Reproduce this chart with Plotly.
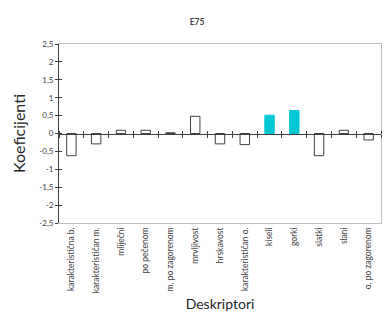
import plotly.graph_objects as go

categories = ["karakteristična b.", "karakterističan m.", "mliječni", "po pečenom",
              "m. po zagorenom", "mrvljivost", "hrskavost", "karakterističan o.",
              "kiseli", "gorki", "slatki", "slani", "o. po zagorenom"]
values = [-0.62, -0.29, 0.09, 0.09, 0.02, 0.48, -0.29, -0.31, 0.51, 0.64, -0.62, 0.09, -0.18]
highlight = [False, False, False, False, False, False, False, False, True, True, False, False, False]
y_ticks = [-2.5, -2, -1.5, -1, -0.5, 0, 0.5, 1, 1.5, 2, 2.5]
y_tick_labels = ["-2,5", "-2", "-1,5", "-1", "-0,5", "0", "0,5", "1", "1,5", "2", "2,5"]

CYAN = "#00C8D2"
fills = [CYAN if h else "white" for h in highlight]
lines = [CYAN if h else "#404040" for h in highlight]

font = "Lato, Open Sans, sans-serif"
fig = go.Figure()
fig.add_trace(go.Bar(x=categories, y=values, width=0.38,
                     marker=dict(color=fills, line=dict(color=lines, width=1)),
                     showlegend=False))
fig.add_trace(go.Scatter(x=categories, y=values, xaxis="x2", yaxis="y", mode="none",
                         showlegend=False, hoverinfo="skip"))
fig.add_trace(go.Scatter(x=categories, y=values, xaxis="x3", yaxis="y", mode="none",
                         showlegend=False, hoverinfo="skip"))
fig.add_trace(go.Scatter(x=categories, y=values, xaxis="x", yaxis="y2", mode="none",
                         showlegend=False, hoverinfo="skip"))
fig.add_trace(go.Scatter(x=categories, y=values, xaxis="x", yaxis="y3", mode="none",
                         showlegend=False, hoverinfo="skip"))

fig.update_layout(
    width=392, height=335,
    margin=dict(l=59, r=11, t=44, b=112),
    paper_bgcolor="white", plot_bgcolor="white",
    font=dict(family=font, color="#404040"),
    title=dict(text="<b>E75</b>", x=197/392, xanchor="center", y=1 - 22/335, yanchor="middle",
               font=dict(size=8.5, color="#404040")),
    xaxis=dict(type="category", range=[-0.5, 12.5], showline=True, linecolor="#BFBFBF",
               linewidth=1, mirror=True, ticks="", tickangle=-90, automargin=False,
               tickfont=dict(size=8.5, color="#404040"), showgrid=False,
               title=dict(text="Deskriptori", font=dict(size=14, color="#262626"), standoff=6)),
    xaxis2=dict(type="category", range=[-0.5, 12.5], overlaying="x", anchor="free",
                position=0.5, showline=True, linecolor="#404040", linewidth=1,
                ticks="outside", ticklen=3, tickcolor="#404040", tickson="boundaries",
                showticklabels=False, showgrid=False, zeroline=False),
    xaxis3=dict(type="category", range=[-0.5, 12.5], overlaying="x", anchor="free",
                position=0.5, side="top", showline=False,
                ticks="outside", ticklen=3, tickcolor="#404040", tickson="boundaries",
                showticklabels=False, showgrid=False, zeroline=False),
    yaxis=dict(range=[-2.5, 2.5], tickvals=y_ticks, ticktext=y_tick_labels, automargin=False,
               showline=True, linecolor="#404040", linewidth=1, ticks="outside",
               ticklen=3, tickcolor="#404040", showgrid=False, zeroline=False,
               tickfont=dict(size=8, color="#404040"),
               title=dict(text="Koeficijenti", font=dict(size=16, color="#262626"), standoff=9)),
    yaxis2=dict(range=[-2.5, 2.5], tickvals=y_ticks, overlaying="y", anchor="x", side="left",
                showline=False, ticks="inside", ticklen=3, tickcolor="#404040",
                showticklabels=False, showgrid=False, zeroline=False),
    yaxis3=dict(range=[-2.5, 2.5], overlaying="y", anchor="x", side="right",
                showline=True, linecolor="#BFBFBF", linewidth=1, ticks="",
                showticklabels=False, showgrid=False, zeroline=False),
)
fig.write_html("out.html", config={"displayModeBar": False},
               post_script="document.body.style.margin='0';document.body.style.padding='0';")
